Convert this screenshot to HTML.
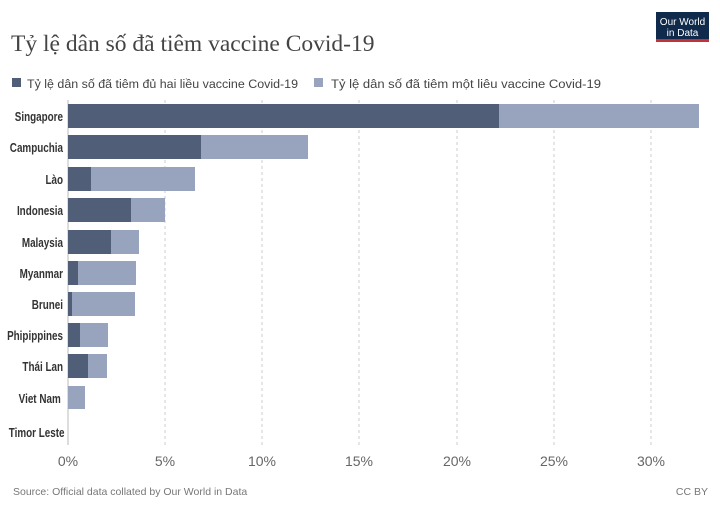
<!DOCTYPE html>
<html><head><meta charset="utf-8"><style>
body{margin:0;background:#fff;}
svg{display:block;}
.l{font-family:"Liberation Sans",sans-serif;font-weight:bold;font-size:13px;fill:#333;}
.t{font-family:"Liberation Sans",sans-serif;fill:#666;font-size:14px;}
</style></head><body>
<svg width="720" height="509" xmlns="http://www.w3.org/2000/svg">
<text x="11" y="51" font-family="Liberation Serif,serif" font-size="23.5" fill="#444">Tỷ lệ dân số đã tiêm vaccine Covid-19</text>
<rect x="656" y="12" width="53" height="30" fill="#0f2a4a"/>
<rect x="656" y="39" width="53" height="3" fill="#c0333a"/>
<text x="682.5" y="25" font-family="Liberation Sans,sans-serif" font-size="10" fill="#fff" text-anchor="middle">Our World</text>
<text x="682.5" y="36" font-family="Liberation Sans,sans-serif" font-size="10" fill="#fff" text-anchor="middle">in Data</text>
<rect x="12" y="78" width="9" height="9" fill="#515e78"/>
<text x="27" y="88" font-family="Liberation Sans,sans-serif" font-size="12.2" fill="#444" textLength="271" lengthAdjust="spacingAndGlyphs">Tỷ lệ dân số đã tiêm đủ hai liều vaccine Covid-19</text>
<rect x="314" y="78" width="9" height="9" fill="#98a4bd"/>
<text x="331" y="88" font-family="Liberation Sans,sans-serif" font-size="12.2" fill="#444" textLength="270" lengthAdjust="spacingAndGlyphs">Tỷ lệ dân số đã tiêm một liêu vaccine Covid-19</text>
<g stroke="#ccc" stroke-dasharray="3,3">
<line x1="165" y1="100" x2="165" y2="445"/><line x1="262" y1="100" x2="262" y2="445"/><line x1="359" y1="100" x2="359" y2="445"/><line x1="457" y1="100" x2="457" y2="445"/><line x1="554" y1="100" x2="554" y2="445"/><line x1="651" y1="100" x2="651" y2="445"/>
</g>
<line x1="68" y1="100" x2="68" y2="445" stroke="#bbb"/>
<g fill="#98a4bd">
<rect x="68" y="104" width="631" height="24"/><rect x="68" y="135" width="240" height="24"/><rect x="68" y="167" width="127" height="24"/><rect x="68" y="198" width="97" height="24"/><rect x="68" y="230" width="71" height="24"/><rect x="68" y="261" width="68" height="24"/><rect x="68" y="292" width="67" height="24"/><rect x="68" y="323" width="40" height="24"/><rect x="68" y="354" width="39" height="24"/><rect x="68" y="386" width="17" height="23"/>
</g>
<g fill="#515e78">
<rect x="68" y="104" width="431" height="24"/><rect x="68" y="135" width="133" height="24"/><rect x="68" y="167" width="23" height="24"/><rect x="68" y="198" width="63" height="24"/><rect x="68" y="230" width="43" height="24"/><rect x="68" y="261" width="10" height="24"/><rect x="68" y="292" width="4" height="24"/><rect x="68" y="323" width="12" height="24"/><rect x="68" y="354" width="20" height="24"/>
</g>
<g class="l" text-anchor="end" transform="translate(63,0) scale(0.76,1)">
<text x="0" y="121">Singapore</text><text x="0" y="152">Campuchia</text><text x="0" y="184">Lào</text><text x="0" y="215">Indonesia</text><text x="0" y="247">Malaysia</text><text x="0" y="278">Myanmar</text><text x="0" y="309">Brunei</text><text x="0" y="340">Phipippines</text><text x="0" y="371">Thái Lan</text><text x="-3" y="403">Viet Nam</text><text x="2" y="437">Timor Leste</text>
</g>
<g class="t" text-anchor="middle">
<text x="68" y="466">0%</text><text x="165" y="466">5%</text><text x="262" y="466">10%</text><text x="359" y="466">15%</text><text x="457" y="466">20%</text><text x="554" y="466">25%</text><text x="651" y="466">30%</text>
</g>
<text x="13" y="495" font-family="Liberation Sans,sans-serif" font-size="10.5" fill="#777">Source: Official data collated by Our World in Data</text>
<text x="708" y="495" font-family="Liberation Sans,sans-serif" font-size="10.5" fill="#777" text-anchor="end">CC BY</text>
</svg>
</body></html>
